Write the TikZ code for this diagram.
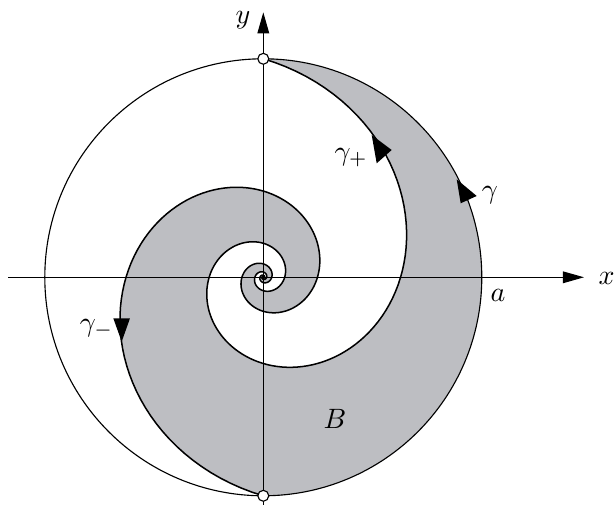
\documentclass[tikz,border=0pt]{standalone}
\usetikzlibrary{arrows.meta}
\definecolor{regfill}{RGB}{189,190,194}
\begin{document}
\begin{tikzpicture}[x=0.3571pt,y=0.3571pt,
  lab/.style={inner sep=0pt},
  spiral/.style={line width=0.54pt},
  axis/.style={line width=0.4pt, -{Triangle[length=7.5pt,width=4.15pt]}},
  pt/.style={circle, draw, fill=white, line width=0.4pt, minimum size=3.9pt, inner sep=0pt},
  tipmark/.style={fill=black}]
\useasboundingbox (-263.3,-232.7) rectangle (351.7,277.3);
\def\CR{218.5}
\def\SK{0.296}
% region B
\fill[regfill] (0,\CR) arc[start angle=90,end angle=-90,radius=\CR]
  -- plot[domain=0:1800,samples=600] ({\CR*exp(-\SK*rad(\x))*cos(-90-\x)},{\CR*exp(-\SK*rad(\x))*sin(-90-\x)})
  -- plot[domain=1800:0,samples=600] ({\CR*exp(-\SK*rad(\x))*cos(90-\x)},{\CR*exp(-\SK*rad(\x))*sin(90-\x)})
  -- cycle;
% circle
\draw[line width=0.4pt] (0,0) circle[radius=\CR];
% axes
\coordinate (xl) at (-255,0);
\coordinate (xr) at (320.7,0);
\coordinate (yb) at (0,-227.7);
\coordinate (yt) at (0,265);
\draw[axis] (xl) -- (xr);
\draw[axis] (yb) -- (yt);
% spirals
\draw[spiral] plot[domain=0:1800,samples=600] ({\CR*exp(-\SK*rad(\x))*cos(90-\x)},{\CR*exp(-\SK*rad(\x))*sin(90-\x)});
\draw[spiral] plot[domain=0:1800,samples=600] ({\CR*exp(-\SK*rad(\x))*cos(-90-\x)},{\CR*exp(-\SK*rad(\x))*sin(-90-\x)});
% arrow heads
\fill[tipmark] (193.4,98) -- (213.4,81.3) -- (197.4,74) -- cycle;
\fill[tipmark] (108.4,142.3) -- (128.4,127.3) -- (113.4,114) -- cycle;
\fill[tipmark] (-150,-41) -- (-133.3,-41) -- (-141.6,-64.4) -- cycle;
% points
\node[pt] (P) at (0,\CR) {};
\node[pt] (Q) at (0,-\CR) {};
% labels
\node[lab] (lx) at (343.4,-0.7) {$x$};
\node[lab] (ly) at (-20.3,257.3) {$y$};
\node[lab] (la) at (234.7,-17.7) {$a$};
\node[lab] (lB) at (71.7,-141.4) {$B$};
\node[lab] (lg) at (226.7,82.3) {$\gamma$};
\node[lab] (lgp) at (87.8,119.3) {$\gamma_+$};
\node[lab] (lgm) at (-166.6,-51.7) {$\gamma_-$};
\end{tikzpicture}
\end{document}
